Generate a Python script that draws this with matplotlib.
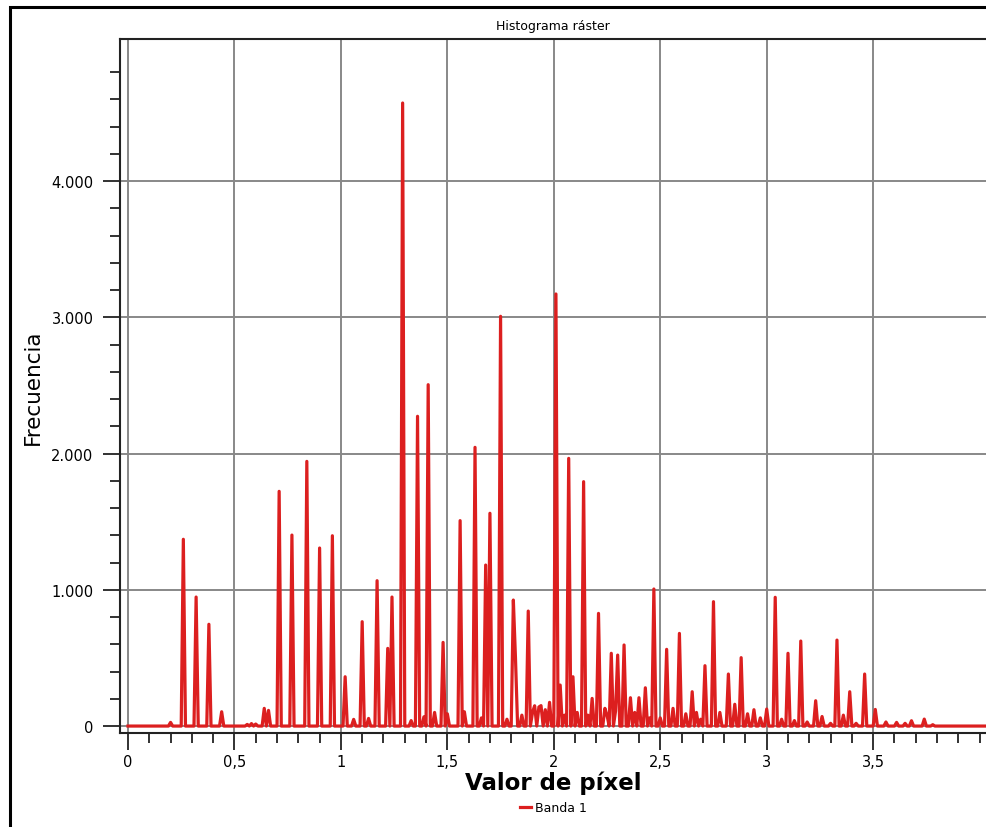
import matplotlib
matplotlib.use('Agg')
import matplotlib.pyplot as plt
from matplotlib.patches import Rectangle
from matplotlib.ticker import MultipleLocator, FixedLocator, FuncFormatter
import numpy as np

# Histograma ráster (valor de píxel, frecuencia)
pico_valor = [0.20, 0.26, 0.32, 0.38, 0.44, 0.56, 0.58, 0.60, 0.64, 0.66,
              0.71, 0.77, 0.84, 0.90, 0.96, 1.02, 1.06, 1.10, 1.13, 1.17,
              1.22, 1.24, 1.29, 1.33, 1.36, 1.39, 1.41, 1.44, 1.48, 1.50,
              1.56, 1.58, 1.63, 1.66, 1.68, 1.70, 1.75, 1.78, 1.81, 1.82,
              1.85, 1.88, 1.90, 1.91, 1.93, 1.94, 1.96, 1.98, 2.01, 2.03,
              2.05, 2.07, 2.09, 2.11, 2.14, 2.16, 2.18, 2.21, 2.24, 2.25,
              2.27, 2.29, 2.30, 2.33, 2.36, 2.38, 2.40, 2.43, 2.45, 2.47,
              2.50, 2.53, 2.56, 2.59, 2.62, 2.65, 2.67, 2.69, 2.71, 2.75,
              2.78, 2.82, 2.85, 2.88, 2.91, 2.94, 2.97, 3.00, 3.04, 3.07,
              3.10, 3.13, 3.16, 3.19, 3.23, 3.26, 3.30, 3.33, 3.36, 3.39,
              3.42, 3.46, 3.51, 3.56, 3.61, 3.65, 3.68, 3.74, 3.78]
pico_frec = [27, 1371, 947, 747, 105, 12, 18, 15, 130, 115,
             1723, 1402, 1943, 1307, 1397, 362, 49, 766, 56, 1067,
             570, 947, 4574, 40, 2274, 68, 2506, 100, 614, 90,
             1508, 105, 2046, 60, 1182, 1562, 3008, 50, 925, 500,
             80, 844, 100, 149, 140, 150, 120, 174, 3172, 301,
             80, 1965, 362, 100, 1794, 80, 203, 827, 130, 80,
             534, 110, 521, 595, 208, 100, 208, 281, 60, 1006,
             60, 563, 130, 680, 90, 252, 100, 50, 443, 913,
             100, 382, 160, 502, 90, 120, 60, 125, 945, 50,
             534, 40, 624, 30, 186, 70, 20, 631, 80, 252,
             20, 382, 122, 30, 27, 20, 39, 51, 10]

x_ticks = [0, 0.5, 1, 1.5, 2, 2.5, 3, 3.5]
y_ticks = [0, 1000, 2000, 3000, 4000]

ancho_bin = 0.01
x_max = 4.03

bins = np.arange(0, x_max + ancho_bin, ancho_bin)
frec = np.zeros(len(bins))
for v, f in zip(pico_valor, pico_frec):
    frec[int(round(v / ancho_bin))] = f

fig = plt.figure(figsize=(9.86, 8.28), dpi=100)
ax = fig.add_axes([120/986, 1 - 734/828, 1 - 120/986, (734 - 40)/828])

ax.plot(bins, frec, color='#dc1f1f', linewidth=2.3, label='Banda 1', zorder=3)

ax.set_xlim(-0.0375, x_max)
ax.set_ylim(-51, 5044)

ax.xaxis.set_major_locator(FixedLocator(x_ticks))
ax.xaxis.set_minor_locator(MultipleLocator(0.1))
ax.yaxis.set_major_locator(FixedLocator(y_ticks))
ax.yaxis.set_minor_locator(FixedLocator(np.arange(200, 5000, 200)))
ax.xaxis.set_major_formatter(FuncFormatter(lambda v, p: ('%g' % v).replace('.', ',')))
ax.yaxis.set_major_formatter(FuncFormatter(lambda v, p: '{:,.0f}'.format(v).replace(',', '.')))

ax.tick_params(axis='both', which='major', length=12, width=1.3, color='#222222',
               labelsize=10.5)
ax.tick_params(axis='y', which='major', pad=7)
ax.tick_params(axis='x', which='major', pad=3)
ax.tick_params(axis='both', which='minor', length=7, width=1.3, color='#222222')

ax.grid(True, which='major', color='#888888', linewidth=1.4, zorder=0)
ax.set_axisbelow(True)

for s in ['left', 'bottom', 'top']:
    ax.spines[s].set_linewidth(1.5)
    ax.spines[s].set_color('#222222')
ax.spines['right'].set_visible(False)

ax.set_title('Histograma ráster', fontsize=9, pad=7)
ax.set_xlabel('Valor de píxel', fontsize=16.5, fontweight='bold', labelpad=1)
ax.set_ylabel('Frecuencia', fontsize=15.5, labelpad=6)

fig.legend(loc='center', bbox_to_anchor=(553/986, 1 - 809/828), frameon=False,
           fontsize=9, handlelength=0.9, handletextpad=0.3)

# marco exterior
fig.patches.append(Rectangle((10/986, -0.1), 1.2, 1.1 - 8/828, fill=False,
                             edgecolor='black', linewidth=2.2,
                             transform=fig.transFigure, figure=fig))

fig.savefig('out.png', dpi=100)
